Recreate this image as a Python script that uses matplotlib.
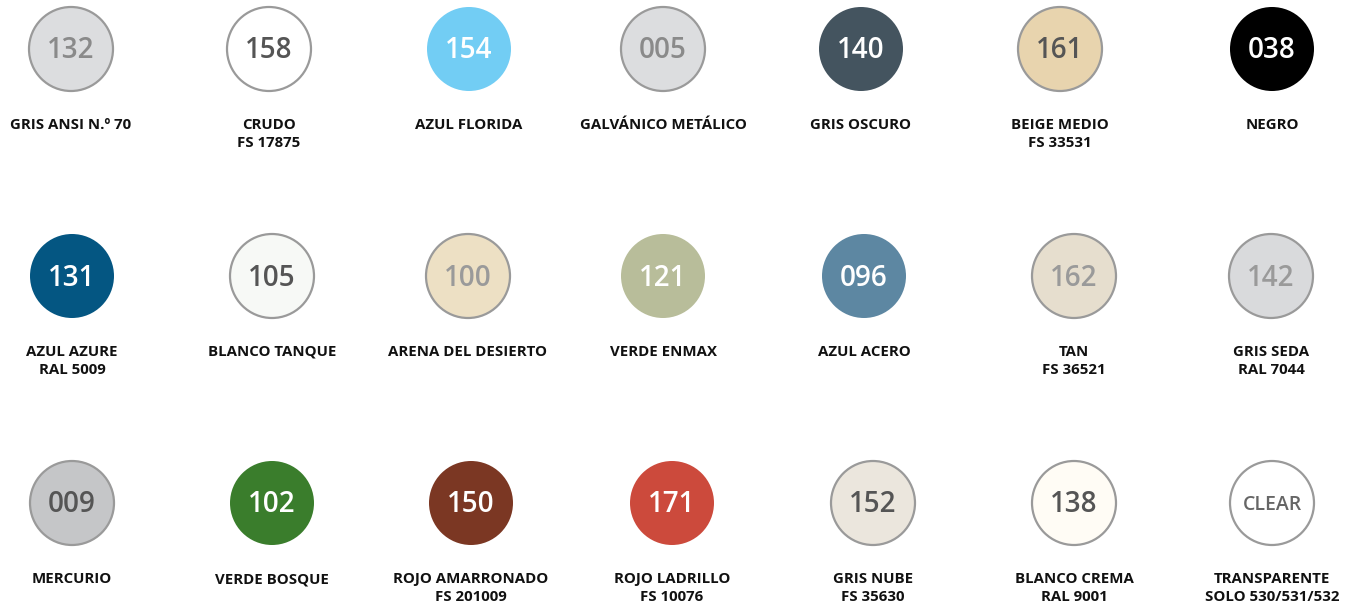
import matplotlib
matplotlib.use('Agg')
import matplotlib.pyplot as plt
from matplotlib.patches import Circle


codes = ['132', '158', '154', '005', '140', '161', '038',
         '131', '105', '100', '121', '096', '162', '142',
         '009', '102', '150', '171', '152', '138', 'CLEAR']

names = ['GRIS ANSI N.º 70', 'CRUDO\nFS 17875', 'AZUL FLORIDA', 'GALVÁNICO METÁLICO',
         'GRIS OSCURO', 'BEIGE MEDIO\nFS 33531', 'NEGRO',
         'AZUL AZURE\nRAL 5009', 'BLANCO TANQUE', 'ARENA DEL DESIERTO', 'VERDE ENMAX',
         'AZUL ACERO', 'TAN\nFS 36521', 'GRIS SEDA\nRAL 7044',
         'MERCURIO', 'VERDE BOSQUE', 'ROJO AMARRONADO\nFS 201009', 'ROJO LADRILLO\nFS 10076',
         'GRIS NUBE\nFS 35630', 'BLANCO CREMA\nRAL 9001', 'TRANSPARENTE\nSOLO 530/531/532']

fills = ['#dcdddf', '#ffffff', '#72cdf4', '#dcdddf', '#44545f', '#e8d4ae', '#000000',
         '#045682', '#f7f9f6', '#ede0c4', '#b8bd9a', '#5d87a2', '#e6dece', '#d9dadc',
         '#c5c6c8', '#3a7d2c', '#7b3723', '#cc4a3c', '#ebe6dd', '#fffcf5', '#ffffff']

num_colors = ['#8a8a8a', '#555555', '#ffffff', '#8a8a8a', '#ffffff', '#555555', '#ffffff',
              '#ffffff', '#555555', '#9a9a9a', '#ffffff', '#ffffff', '#9a9a9a', '#9a9a9a',
              '#555555', '#ffffff', '#ffffff', '#ffffff', '#555555', '#555555', '#666666']

bordered = [True, True, False, True, False, True, False,
            False, True, True, False, False, True, True,
            True, False, False, False, True, True, True]

# swatch centres, one row of x positions per line of the chart
row_x = [[71, 269, 469, 663, 861, 1060, 1272],
         [72, 272, 468, 663, 864, 1074, 1271],
         [72, 272, 471, 672, 873, 1074, 1272]]
row_y = [49, 276, 503]
radius = 42

fig = plt.figure(figsize=(13.56, 6.03), dpi=100)
ax = fig.add_axes([0, 0, 1, 1])
ax.set_xlim(0, 1356)
ax.set_ylim(603, 0)
ax.axis('off')

for i, code in enumerate(codes):
    row, col = divmod(i, 7)
    cx = row_x[row][col]
    cy = row_y[row]
    edge = '#9a9a9a' if bordered[i] else fills[i]
    ax.add_patch(Circle((cx, cy), radius, facecolor=fills[i], edgecolor=edge,
                        linewidth=1.6 if bordered[i] else 0))
    size = 14 if code == 'CLEAR' else 20
    ax.text(cx, cy + 2, code, ha='center', va='center', fontsize=size,
            fontweight='semibold', color=num_colors[i], family='Open Sans')
    ax.text(cx, cy + 69, names[i], ha='center', va='top', fontsize=10.8,
            fontweight='bold', color='#111111', family='Open Sans', linespacing=1.4)

fig.savefig('out.png', dpi=100)
